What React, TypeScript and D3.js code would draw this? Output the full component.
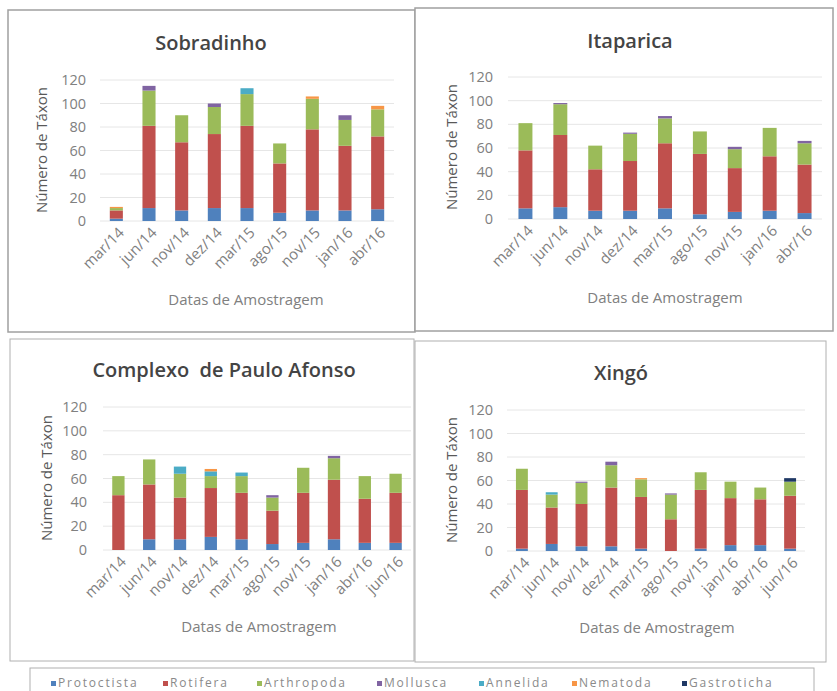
import React from "react";
import * as d3 from "d3";

// ---- data ----
const SERIES = ["Protoctista", "Rotifera", "Arthropoda", "Mollusca", "Annelida", "Nematoda", "Gastroticha"];
const COLORS = ["#4F81BD", "#C0504D", "#9BBB59", "#8064A2", "#4BACC6", "#F79646", "#1F3864"];
const Y_TICKS = [0, 20, 40, 60, 80, 100, 120];

const catsTop = ["mar/14", "jun/14", "nov/14", "dez/14", "mar/15", "ago/15", "nov/15", "jan/16", "abr/16"];
const catsBottom = ["mar/14", "jun/14", "nov/14", "dez/14", "mar/15", "ago/15", "nov/15", "jan/16", "abr/16", "jun/16"];

// Sobradinho
const sobProtoctista = [2, 11, 9, 11, 11, 7, 9, 9, 10];
const sobRotifera = [7, 70, 58, 63, 70, 42, 69, 55, 62];
const sobArthropoda = [2, 30, 23, 23, 27, 17, 26, 22, 23];
const sobMollusca = [0, 4, 0, 3, 0, 0, 0, 4, 0];
const sobAnnelida = [0, 0, 0, 0, 5, 0, 0, 0, 0];
const sobNematoda = [1, 0, 0, 0, 0, 0, 2, 0, 3];
const sobGastroticha = [0, 0, 0, 0, 0, 0, 0, 0, 0];

// Itaparica
const itaProtoctista = [9, 10, 7, 7, 9, 4, 6, 7, 5];
const itaRotifera = [49, 61, 35, 42, 55, 51, 37, 46, 41];
const itaArthropoda = [23, 26, 20, 23, 21, 19, 16, 24, 18];
const itaMollusca = [0, 1, 0, 1, 2, 0, 2, 0, 2];
const itaAnnelida = [0, 0, 0, 0, 0, 0, 0, 0, 0];
const itaNematoda = [0, 0, 0, 0, 0, 0, 0, 0, 0];
const itaGastroticha = [0, 0, 0, 0, 0, 0, 0, 0, 0];

// Complexo de Paulo Afonso
const cpaProtoctista = [0, 9, 9, 11, 9, 5, 6, 9, 6, 6];
const cpaRotifera = [46, 46, 35, 41, 39, 28, 42, 50, 37, 42];
const cpaArthropoda = [16, 21, 20, 10, 14, 11, 21, 18, 19, 16];
const cpaMollusca = [0, 0, 0, 0, 0, 2, 0, 2, 0, 0];
const cpaAnnelida = [0, 0, 6, 4, 3, 0, 0, 0, 0, 0];
const cpaNematoda = [0, 0, 0, 2, 0, 0, 0, 0, 0, 0];
const cpaGastroticha = [0, 0, 0, 0, 0, 0, 0, 0, 0, 0];

// Xingó
const xinProtoctista = [2, 6, 4, 4, 2, 0, 2, 5, 5, 2];
const xinRotifera = [50, 31, 36, 50, 44, 27, 50, 40, 39, 45];
const xinArthropoda = [18, 11, 18, 19, 15, 21, 15, 14, 10, 12];
const xinMollusca = [0, 0, 1, 3, 0, 1, 0, 0, 0, 0];
const xinAnnelida = [0, 2, 0, 0, 0, 0, 0, 0, 0, 0];
const xinNematoda = [0, 0, 0, 0, 1, 0, 0, 0, 0, 0];
const xinGastroticha = [0, 0, 0, 0, 0, 0, 0, 0, 0, 3];

// ---- layout ----
const FONT = "'Open Sans', 'DejaVu Sans', sans-serif";

type PanelDef = {
  title: string;
  cats: string[];
  series: number[][];
  box: [number, number, number, number];
  boxStroke: string;
  boxWidth: number;
  plotX: [number, number];
  plotY: [number, number]; // y of 0, y of 120
  titleX: number;
  titleY: number;
  yLabelRight: number;
  yTitleX: number;
  yTitleY: number;
  xTitleX: number;
  xTitleY: number;
};

const panels: PanelDef[] = [
  {
    title: "Sobradinho",
    cats: catsTop,
    series: [sobProtoctista, sobRotifera, sobArthropoda, sobMollusca, sobAnnelida, sobNematoda, sobGastroticha],
    box: [8, 10, 407, 322],
    boxStroke: "#a0a0a0",
    boxWidth: 1.5,
    plotX: [100, 394],
    plotY: [221, 80],
    titleX: 211,
    titleY: 50,
    yLabelRight: 86,
    yTitleX: 42,
    yTitleY: 150,
    xTitleX: 246,
    xTitleY: 305,
  },
  {
    title: "Itaparica",
    cats: catsTop,
    series: [itaProtoctista, itaRotifera, itaArthropoda, itaMollusca, itaAnnelida, itaNematoda, itaGastroticha],
    box: [415, 8, 418, 323],
    boxStroke: "#a0a0a0",
    boxWidth: 1.5,
    plotX: [508, 822],
    plotY: [219, 77],
    titleX: 630,
    titleY: 48,
    yLabelRight: 493,
    yTitleX: 452,
    yTitleY: 147,
    xTitleX: 665,
    xTitleY: 303,
  },
  {
    title: "Complexo  de Paulo Afonso",
    cats: catsBottom,
    series: [cpaProtoctista, cpaRotifera, cpaArthropoda, cpaMollusca, cpaAnnelida, cpaNematoda, cpaGastroticha],
    box: [10, 339, 404, 322],
    boxStroke: "#b0b0b0",
    boxWidth: 1,
    plotX: [103, 411],
    plotY: [550, 407],
    titleX: 224,
    titleY: 377,
    yLabelRight: 87,
    yTitleX: 47,
    yTitleY: 478,
    xTitleX: 259,
    xTitleY: 632,
  },
  {
    title: "Xingó",
    cats: catsBottom,
    series: [xinProtoctista, xinRotifera, xinArthropoda, xinMollusca, xinAnnelida, xinNematoda, xinGastroticha],
    box: [415, 341, 411, 321],
    boxStroke: "#b0b0b0",
    boxWidth: 1,
    plotX: [507, 805],
    plotY: [551, 410],
    titleX: 621,
    titleY: 380,
    yLabelRight: 493,
    yTitleX: 452,
    yTitleY: 480,
    xTitleX: 657,
    xTitleY: 633,
  },
];

function Panel({ p }: { p: PanelDef }) {
  const x = d3.scaleBand<string>().domain(p.cats).range(p.plotX).paddingInner(0.6).paddingOuter(0.3);
  const y = d3.scaleLinear().domain([0, 120]).range(p.plotY);
  const rows = p.cats.map((c, i) => {
    const r: any = { cat: c };
    SERIES.forEach((s, k) => (r[s] = p.series[k][i]));
    return r;
  });
  const stacked = d3.stack<any>().keys(SERIES)(rows);
  const [bx, by, bw, bh] = p.box;
  return (
    <g>
      <rect x={bx} y={by} width={bw} height={bh} fill="#fff" stroke={p.boxStroke} strokeWidth={p.boxWidth} />
      <text
        x={p.titleX}
        y={p.titleY}
        textAnchor="middle"
        fontFamily={FONT}
        fontSize={20}
        fontWeight={600}
        fill="#444"
        style={{ whiteSpace: "pre" }}
      >
        {p.title}
      </text>
      {Y_TICKS.map((t) => (
        <g key={t}>
          <line x1={p.plotX[0]} x2={p.plotX[1]} y1={y(t)} y2={y(t)} stroke="#e6e6e6" strokeWidth={1} />
          <text x={p.yLabelRight} y={y(t)} dy="0.35em" textAnchor="end" fontFamily={FONT} fontSize={14.5} fill="#808080">
            {t}
          </text>
        </g>
      ))}
      {stacked.map((layer, k) => (
        <g key={SERIES[k]} fill={COLORS[k]}>
          {layer.map((d, i) =>
            d[1] - d[0] > 0 ? (
              <rect
                key={i}
                x={x(p.cats[i])}
                width={x.bandwidth()}
                y={y(d[1])}
                height={y(d[0]) - y(d[1])}
              />
            ) : null
          )}
        </g>
      ))}
      {p.cats.map((c) => {
        const cx = (x(c) as number) + x.bandwidth() / 2;
        return (
          <text
            key={c}
            transform={`translate(${cx + 5},${p.plotY[0] + 9}) rotate(-45)`}
            textAnchor="end"
            dy="0.35em"
            fontFamily={FONT}
            fontSize={15}
            fill="#808080"
          >
            {c}
          </text>
        );
      })}
      <text
        transform={`translate(${p.yTitleX},${p.yTitleY}) rotate(-90)`}
        textAnchor="middle"
        dy="0.35em"
        fontFamily={FONT}
        fontSize={15}
        fill="#595959"
      >
        Número de Táxon
      </text>
      <text x={p.xTitleX} y={p.xTitleY} textAnchor="middle" fontFamily={FONT} fontSize={15} fill="#808080">
        Datas de Amostragem
      </text>
    </g>
  );
}

const LEGEND_X = [51, 163, 257, 377, 479, 572, 682];

export default function App() {
  return (
    <svg
      width={837}
      height={691}
      style={{ position: "absolute", left: 0, top: 0, background: "#fff" }}
    >
      <rect width={837} height={691} fill="#fff" />
      {panels.map((p) => (
        <Panel key={p.title} p={p} />
      ))}
      <rect x={30} y={668} width={784} height={30} fill="#fff" stroke="#b0b0b0" strokeWidth={1} />
      {SERIES.map((s, k) => (
        <g key={s}>
          <rect x={LEGEND_X[k]} y={681} width={5} height={5} fill={COLORS[k]} />
          <text x={LEGEND_X[k] + 7} y={687} fontFamily={FONT} fontSize={12} letterSpacing={1.8} fill="#8a8a8a">
            {s}
          </text>
        </g>
      ))}
    </svg>
  );
}
